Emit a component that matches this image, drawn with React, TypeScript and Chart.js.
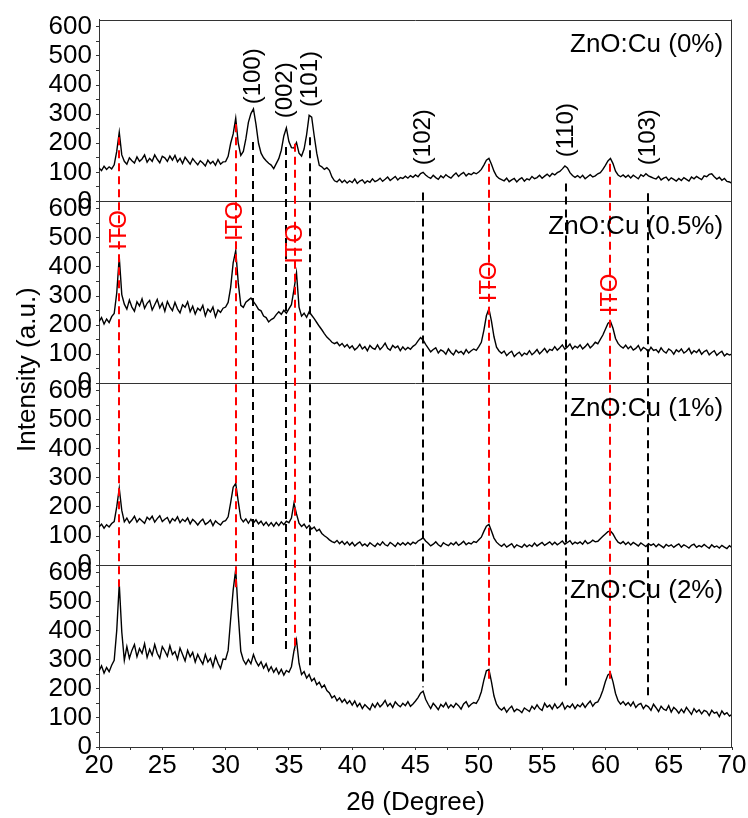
import { useEffect, useRef } from 'react';
import { Chart, registerables } from 'chart.js';

Chart.register(...registerables);

const FONT = '"Liberation Sans", Arial, Helvetica, sans-serif';

// 2θ sampling grid (degrees)
const THETA = [
  20, 20.2, 20.4, 20.6, 20.8, 21, 21.2, 21.4, 21.6, 21.8,
  22, 22.2, 22.4, 22.6, 22.8, 23, 23.2, 23.4, 23.6, 23.8,
  24, 24.2, 24.4, 24.6, 24.8, 25, 25.2, 25.4, 25.6, 25.8,
  26, 26.2, 26.4, 26.6, 26.8, 27, 27.2, 27.4, 27.6, 27.8,
  28, 28.2, 28.4, 28.6, 28.8, 29, 29.2, 29.4, 29.6, 29.8,
  30, 30.2, 30.4, 30.6, 30.8, 31, 31.2, 31.4, 31.6, 31.8,
  32, 32.2, 32.4, 32.6, 32.8, 33, 33.2, 33.4, 33.6, 33.8,
  34, 34.2, 34.4, 34.6, 34.8, 35, 35.2, 35.4, 35.6, 35.8,
  36, 36.2, 36.4, 36.6, 36.8, 37, 37.2, 37.4, 37.6, 37.8,
  38, 38.2, 38.4, 38.6, 38.8, 39, 39.2, 39.4, 39.6, 39.8,
  40, 40.2, 40.4, 40.6, 40.8, 41, 41.2, 41.4, 41.6, 41.8,
  42, 42.2, 42.4, 42.6, 42.8, 43, 43.2, 43.4, 43.6, 43.8,
  44, 44.2, 44.4, 44.6, 44.8, 45, 45.2, 45.4, 45.6, 45.8,
  46, 46.2, 46.4, 46.6, 46.8, 47, 47.2, 47.4, 47.6, 47.8,
  48, 48.2, 48.4, 48.6, 48.8, 49, 49.2, 49.4, 49.6, 49.8,
  50, 50.2, 50.4, 50.6, 50.8, 51, 51.2, 51.4, 51.6, 51.8,
  52, 52.2, 52.4, 52.6, 52.8, 53, 53.2, 53.4, 53.6, 53.8,
  54, 54.2, 54.4, 54.6, 54.8, 55, 55.2, 55.4, 55.6, 55.8,
  56, 56.2, 56.4, 56.6, 56.8, 57, 57.2, 57.4, 57.6, 57.8,
  58, 58.2, 58.4, 58.6, 58.8, 59, 59.2, 59.4, 59.6, 59.8,
  60, 60.2, 60.4, 60.6, 60.8, 61, 61.2, 61.4, 61.6, 61.8,
  62, 62.2, 62.4, 62.6, 62.8, 63, 63.2, 63.4, 63.6, 63.8,
  64, 64.2, 64.4, 64.6, 64.8, 65, 65.2, 65.4, 65.6, 65.8,
  66, 66.2, 66.4, 66.6, 66.8, 67, 67.2, 67.4, 67.6, 67.8,
  68, 68.2, 68.4, 68.6, 68.8, 69, 69.2, 69.4, 69.6, 69.8,
  70,
];

// ZnO:Cu (0%)
const CU_0 = [
  115, 106, 121, 110, 119, 112, 126, 172, 238, 160,
  138, 128, 150, 140, 132, 153, 138, 146, 160, 135,
  148, 138, 160, 145, 133, 155, 150, 138, 156, 142,
  158, 136, 148, 130, 152, 140, 128, 147, 136, 126,
  140, 132, 122, 142, 130, 138, 124, 144, 128, 136,
  137, 155, 200, 232, 286, 200, 158, 172, 215, 272,
  302, 318, 265, 200, 166, 150, 140, 131, 125, 113,
  130, 147, 176, 225, 253, 206, 185, 184, 202, 166,
  156, 180, 230, 296, 290, 225, 166, 124, 119, 110,
  116, 107, 84, 71, 67, 76, 65, 73, 63, 71,
  65, 77, 62, 70, 74, 63, 71, 66, 78, 68,
  72, 80, 69, 76, 84, 72, 79, 86, 74, 82,
  79, 87, 80, 89, 83, 91, 85, 96, 100, 91,
  84, 79, 90, 82, 76, 88, 81, 92, 85, 80,
  90, 98, 86, 94, 100, 88, 96, 92, 99, 95,
  101, 110, 125, 142, 148, 128, 104, 87, 79, 75,
  71, 80, 68, 74, 79, 67, 76, 82, 70, 78,
  74, 86, 78, 82, 90, 80, 87, 94, 86, 96,
  91, 99, 103, 112, 122, 115, 99, 89, 83, 89,
  81, 90, 78, 85, 92, 84, 88, 95, 99, 110,
  124, 139, 148, 130, 104, 91, 85, 91, 83, 90,
  81, 90, 84, 78, 92, 86, 95, 88, 84, 80,
  77, 86, 74, 80, 84, 72, 81, 76, 70, 79,
  72, 82, 76, 70, 84, 78, 86, 80, 75, 88,
  85, 93, 95, 85, 77, 83, 73, 79, 69, 67,
  62,
];

// ZnO:Cu (0.5%)
const CU_05 = [
  212, 226, 204, 221, 209, 229, 240, 310, 434, 305,
  272, 255, 286, 262, 248, 280, 266, 290, 258, 275,
  285, 252, 270, 288, 259, 276, 248, 281, 263, 250,
  278, 256, 242, 270, 261, 280, 246, 265, 238, 258,
  250, 268, 232, 255, 245, 262, 228, 252, 244, 258,
  262, 278, 330, 415, 456, 345, 268, 261, 279, 286,
  293, 281, 269, 254, 249, 231, 226, 211, 219, 224,
  236, 246, 237, 251, 241, 256, 270, 322, 380, 262,
  231, 241, 227, 246, 234, 222, 209, 196, 184, 171,
  159, 151, 141, 136, 141, 129, 137, 125, 133, 121,
  129, 115, 122, 134, 118, 126, 112, 130, 121, 117,
  132, 116, 125, 138, 120, 114, 130, 122, 128, 112,
  125, 115, 123, 117, 127, 133, 146, 157, 149, 134,
  121, 108, 116, 122, 104, 115, 110, 100, 118, 106,
  98, 114, 105, 110, 100, 116, 104, 112, 118, 113,
  126, 141, 182, 232, 256, 214, 160, 124, 111, 103,
  111, 95, 104, 110, 92, 101, 107, 94, 104, 99,
  112, 98, 106, 116, 101, 110, 120, 106, 117, 113,
  126, 114, 122, 132, 117, 125, 135, 118, 128, 122,
  132, 118, 126, 136, 122, 130, 141, 136, 151, 166,
  186, 206, 213, 189, 154, 137, 127, 121, 131, 119,
  127, 114, 120, 130, 112, 123, 118, 108, 124, 113,
  116, 106, 122, 110, 104, 118, 112, 100, 115, 108,
  118, 104, 110, 120, 102, 112, 106, 116, 100, 109,
  114, 98, 106, 112, 96, 104, 110, 94, 102, 97,
  101,
];

// ZnO:Cu (1%)
const CU_1 = [
  131, 141, 127, 139, 131, 143, 150, 200, 264, 188,
  149, 162, 145, 155, 168, 148, 160, 152, 144, 165,
  156, 168, 148, 160, 170, 150, 158, 164, 145, 160,
  152, 166, 146, 158, 150, 162, 142, 157, 149, 138,
  150, 158, 140, 146, 155, 136, 152, 144, 138, 150,
  153, 166, 215, 268, 281, 218, 161, 149, 159, 144,
  158, 145, 156, 142, 151, 137, 148, 135, 146, 134,
  147, 136, 149, 139, 151, 146, 162, 213, 176, 144,
  133, 141, 127, 137, 124, 131, 117, 123, 109, 101,
  95, 87, 81, 77, 85, 74, 82, 71, 80, 69,
  78, 66, 74, 80, 67, 73, 65, 77, 70, 64,
  75, 68, 80, 70, 66, 78, 72, 64, 77, 69,
  77, 69, 78, 70, 79, 74, 83, 88, 94, 83,
  75, 66, 72, 80, 70, 64, 77, 71, 67, 76,
  70, 79, 68, 74, 82, 70, 77, 73, 81, 78,
  87, 96, 116, 134, 140, 117, 93, 79, 71, 65,
  73, 62, 68, 74, 60, 70, 65, 61, 72, 63,
  70, 64, 76, 66, 72, 78, 68, 74, 80, 70,
  79, 70, 76, 83, 72, 78, 84, 72, 79, 74,
  80, 72, 84, 74, 78, 86, 80, 82, 91, 99,
  107, 115, 117, 107, 91, 79, 74, 81, 71, 79,
  69, 78, 72, 66, 76, 70, 64, 74, 68, 73,
  63, 72, 66, 60, 71, 65, 70, 61, 68, 73,
  62, 70, 65, 59, 68, 72, 61, 67, 63, 71,
  64, 58, 70, 62, 66, 59, 68, 62, 57, 67,
  60,
];

// ZnO:Cu (2%)
const CU_2 = [
  261, 279, 254, 273, 259, 281, 298, 400, 560, 395,
  298, 345, 305, 332, 352, 310, 338, 322, 355, 308,
  336, 315, 352, 322, 305, 345, 330, 312, 348, 318,
  328, 302, 340, 318, 296, 332, 310, 325, 292, 318,
  300, 285, 318, 292, 305, 276, 312, 288, 270, 302,
  301, 332, 440, 540, 611, 455, 329, 299, 284, 301,
  286, 318, 294, 279, 293, 271, 286, 261, 276, 257,
  271, 251, 267, 247, 263, 257, 276, 330, 368, 288,
  249, 259, 237, 249, 227, 236, 214, 223, 204, 213,
  194, 186, 169, 176, 159, 169, 154, 164, 149, 159,
  144, 158, 139, 150, 132, 146, 137, 128, 148, 136,
  152, 138, 147, 160, 140, 150, 136, 155, 145, 138,
  150, 142, 156, 140, 148, 158, 170, 185, 192, 164,
  147, 132, 150, 140, 128, 146, 138, 152, 134, 145,
  136, 150, 142, 130, 148, 156, 138, 147, 153, 150,
  165, 190, 230, 262, 266, 224, 175, 147, 134, 127,
  136, 120, 132, 140, 122, 130, 126, 118, 134, 128,
  122, 140, 130, 145, 132, 126, 150, 137, 144, 130,
  148, 133, 140, 152, 130, 142, 136, 148, 132, 145,
  138, 150, 136, 148, 158, 140, 152, 155, 172, 195,
  225, 248, 254, 224, 184, 159, 147, 156, 144, 153,
  141, 155, 136, 146, 150, 132, 144, 138, 126, 147,
  135, 122, 140, 130, 126, 142, 120, 136, 128, 116,
  130, 118, 136, 124, 112, 132, 120, 128, 114, 126,
  122, 108, 126, 116, 120, 104, 124, 112, 118, 106,
  112,
];

const SAMPLE_NAMES = ['ZnO:Cu (0%)', 'ZnO:Cu (0.5%)', 'ZnO:Cu (1%)', 'ZnO:Cu (2%)'];
const SERIES = [CU_0, CU_05, CU_1, CU_2];

const Y_TICKS = [0, 50, 100, 150, 200, 250, 300, 350, 400, 450, 500, 550, 600, 625];
const X_TICKS = [20, 22.5, 25, 27.5, 30, 32.5, 35, 37.5, 40, 42.5, 45, 47.5, 50, 52.5, 55, 57.5, 60, 62.5, 65, 67.5, 70];
const Y_MAX = 625;

// ITO reference peaks (red)
const ITO_POS = [21.6, 30.8, 35.5, 50.8, 60.4];
const ITO_LINE_TOP = [221, 265, 198, 130, 130]; // start, in top panel units
const ITO_LINE_BOTTOM = [551, 545, 330, 234, 234]; // end, in bottom panel units
const ITO_LABEL_Y = [527, 557, 479, 350, 309]; // in 0.5% panel units

// ZnO reference peaks (black)
const ZNO_POS = [32.2, 34.75, 36.7, 45.6, 56.9, 63.4];
const ZNO_HKL = ['(100)', '(002)', '(101)', '(102)', '(110)', '(103)'];
const ZNO_LINE_TOP = [204, 187, 221, 31, 62, 28];
const ZNO_LINE_BOTTOM = [354, 320, 279, 205, 194, 171];
const ZNO_LABEL_Y = [430, 382, 421, 221, 245, 221];

const SAMPLE_LABEL_X = 69.3;
const SAMPLE_LABEL_Y = 513;

const PANEL_IDS = ['yP1', 'yP2', 'yP3', 'yP4']; // top to bottom

const AXIS_COLOR = '#333333';
const TEXT_SIZE = 26;

const overlayPlugin = {
  id: 'xrdOverlay',
  afterDatasetsDraw(chart: any) {
    const { ctx, chartArea: a, scales } = chart;
    const xs = scales.x;
    const topS = scales[PANEL_IDS[0]];
    const itoS = scales[PANEL_IDS[1]];
    const botS = scales[PANEL_IDS[3]];
    ctx.save();

    // frame + panel separators
    ctx.strokeStyle = AXIS_COLOR;
    ctx.lineWidth = 1;
    ctx.beginPath();
    ctx.moveTo(a.left, Math.round(a.top) + 0.5);
    ctx.lineTo(a.right, Math.round(a.top) + 0.5);
    ctx.moveTo(Math.round(a.right) - 0.5, a.top);
    ctx.lineTo(Math.round(a.right) - 0.5, a.bottom);
    for (let i = 1; i < PANEL_IDS.length; i++) {
      const y = Math.round(scales[PANEL_IDS[i]].top) + 0.5;
      ctx.moveTo(a.left, y);
      ctx.lineTo(a.right, y);
    }
    ctx.stroke();

    // dashed reference lines
    ctx.lineWidth = 2;
    ctx.setLineDash([8, 5]);
    const drawLines = (pos: number[], y1: number[], y2: number[], color: string) => {
      ctx.strokeStyle = color;
      pos.forEach((p, i) => {
        const px = Math.round(xs.getPixelForValue(p));
        ctx.beginPath();
        ctx.moveTo(px, topS.getPixelForValue(y1[i]));
        ctx.lineTo(px, botS.getPixelForValue(y2[i]));
        ctx.stroke();
      });
    };
    drawLines(ZNO_POS, ZNO_LINE_TOP, ZNO_LINE_BOTTOM, '#000000');
    drawLines(ITO_POS, ITO_LINE_TOP, ITO_LINE_BOTTOM, '#ff0000');
    ctx.setLineDash([]);

    const vText = (txt: string, x: number, y: number) => {
      ctx.save();
      ctx.translate(x, y);
      ctx.rotate(-Math.PI / 2);
      ctx.textAlign = 'center';
      ctx.textBaseline = 'middle';
      ctx.fillText(txt, 0, 0);
      ctx.restore();
    };

    // hkl labels
    ctx.fillStyle = '#000000';
    ctx.font = `24px ${FONT}`;
    ZNO_POS.forEach((p, i) => vText(ZNO_HKL[i], xs.getPixelForValue(p), topS.getPixelForValue(ZNO_LABEL_Y[i])));

    // ITO labels
    ctx.fillStyle = '#ff0000';
    ITO_POS.forEach((p, i) => vText('ITO', xs.getPixelForValue(p), itoS.getPixelForValue(ITO_LABEL_Y[i])));

    // sample names
    ctx.fillStyle = '#000000';
    ctx.font = `${TEXT_SIZE}px ${FONT}`;
    ctx.textAlign = 'right';
    ctx.textBaseline = 'alphabetic';
    PANEL_IDS.forEach((id, i) => {
      ctx.fillText(SAMPLE_NAMES[i], xs.getPixelForValue(SAMPLE_LABEL_X), scales[id].getPixelForValue(SAMPLE_LABEL_Y));
    });

    // axis titles
    ctx.textAlign = 'center';
    ctx.textBaseline = 'alphabetic';
    ctx.fillText('2θ (Degree)', (a.left + a.right) / 2, a.bottom + 63);
    ctx.save();
    ctx.translate(a.left - 71, a.top + 350);
    ctx.rotate(-Math.PI / 2);
    ctx.textBaseline = 'middle';
    ctx.fillText('Intensity (a.u.)', 0, 0);
    ctx.restore();

    ctx.restore();
  },
};

function yPanel() {
  return {
    type: 'linear',
    position: 'left',
    stack: 'panels',
    stackWeight: 1,
    min: 0,
    max: Y_MAX,
    afterBuildTicks: (s: any) => {
      s.ticks = Y_TICKS.map((v) => ({ value: v }));
    },
    afterFit: (s: any) => {
      s.width = 99;
    },
    grid: { drawOnChartArea: false, drawTicks: true, tickLength: 3, color: AXIS_COLOR },
    border: { color: AXIS_COLOR, width: 1 },
    ticks: {
      autoSkip: false,
      padding: 4,
      color: '#000000',
      font: { family: FONT, size: TEXT_SIZE },
      callback: (v: number) => (v === Y_MAX ? null : v % 100 === 0 ? String(v) : ''),
    },
  };
}

export default function App() {
  const ref = useRef<HTMLCanvasElement>(null);

  useEffect(() => {
    if (!ref.current) return;
    // bottom panel first: later-defined left axes are placed on top
    const scales: any = {
      x: {
        type: 'linear',
        position: 'bottom',
        min: 20,
        max: 70,
        afterBuildTicks: (s: any) => {
          s.ticks = X_TICKS.map((v) => ({ value: v }));
        },
        afterFit: (s: any) => {
          s.height = 71;
        },
        grid: { drawOnChartArea: false, drawTicks: true, tickLength: 3, color: AXIS_COLOR },
        border: { color: AXIS_COLOR, width: 1 },
        ticks: {
          autoSkip: false,
          maxRotation: 0,
          padding: 0,
          color: '#000000',
          font: { family: FONT, size: TEXT_SIZE },
          callback: (v: number) => (v % 5 === 0 ? String(v) : ''),
        },
      },
    };
    for (let i = PANEL_IDS.length - 1; i >= 0; i--) scales[PANEL_IDS[i]] = yPanel();

    const chart = new Chart(ref.current, {
      type: 'line',
      data: {
        datasets: SERIES.map((s, k) => ({
          label: SAMPLE_NAMES[k],
          data: THETA.map((t, i) => ({ x: t, y: s[i] })),
          yAxisID: PANEL_IDS[k],
          borderColor: '#000000',
          borderWidth: 1.4,
          pointRadius: 0,
          tension: 0,
          fill: false,
        })),
      },
      options: {
        responsive: false,
        animation: false,
        events: [],
        layout: { padding: { top: 10, right: 16, left: 0, bottom: 0 } },
        plugins: { legend: { display: false }, tooltip: { enabled: false }, title: { display: false } },
        scales,
      } as any,
      plugins: [overlayPlugin],
    });
    return () => chart.destroy();
  }, []);

  return (
    <div style={{ position: 'fixed', left: 0, top: 0, width: 748, height: 818, background: '#fff' }}>
      <canvas ref={ref} width={748} height={818} style={{ display: 'block' }} />
    </div>
  );
}
